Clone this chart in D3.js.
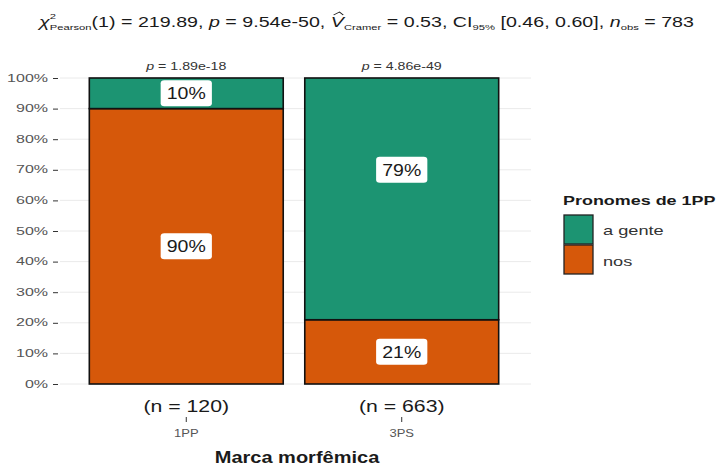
<!DOCTYPE html>
<html>
<head>
<meta charset="utf-8">
<script src="https://cdn.jsdelivr.net/npm/d3@7"></script>
<style>
  body { margin: 0; background: #fff; }
  svg { display: block; font-family: "Liberation Sans", Arial, sans-serif; }
  svg text { white-space: pre; }
</style>
</head>
<body>
<svg id="chart" width="717" height="466" font-family="Liberation Sans, Arial, sans-serif"></svg>
<script>
// Data
const categories = ["1PP", "3PS"];
const sampleSizes = [120, 663];
const pValues = ["1.89e-18", "4.86e-49"];
const seriesNames = ["a gente", "nos"];
const aGente = [10, 79];
const nos = [90, 21];
const yTicks = [0, 10, 20, 30, 40, 50, 60, 70, 80, 90, 100];
const seriesColors = ["#1C9472", "#D6580A"];

const svg = d3.select("#chart");
const panel = { left: 57, right: 531, top: 78, bottom: 384 };

const x = d3.scaleLinear().domain([0.4, categories.length + 0.6]).range([panel.left, panel.right]);
const y = d3.scaleLinear().domain([0, 100]).range([panel.bottom, panel.top]);
const barW = (x(1) - x(0)) * 0.9;

// Horizontally widened text placed at (px, py)
function wideText(parent, px, py, str, opts = {}) {
  const g = parent.append("g").attr("transform", `translate(${px},${py}) scale(${opts.sx || 1.35},1)`);
  const t = g.append("text").attr("x", 0).attr("y", 0)
    .attr("text-anchor", opts.anchor || "middle")
    .attr("fill", opts.fill || "#222")
    .attr("font-weight", opts.bold ? "bold" : null)
    .style("font-size", (opts.size || 12) + "px");
  if (opts.dy) t.attr("dy", opts.dy);
  t.text(str);
  return { g, t };
}

// Gridlines
svg.append("g").selectAll("line").data(yTicks).join("line")
  .attr("x1", panel.left + 3).attr("x2", panel.right)
  .attr("y1", d => y(d)).attr("y2", d => y(d))
  .attr("stroke", "#e8e8e8").attr("stroke-width", 0.9);

// Y axis: tick marks via d3 axis, labels drawn widened
const yAxis = d3.axisLeft(y).tickValues(yTicks).tickFormat("").tickSize(5);
const gy = svg.append("g").attr("transform", `translate(${panel.left + 1},0)`).call(yAxis);
gy.select(".domain").remove();
gy.selectAll(".tick line").attr("stroke", "#333").attr("stroke-width", 1);
yTicks.forEach(v => {
  wideText(svg, 48, y(v), v + "%", { anchor: "end", size: 10, sx: 1.6, fill: "#555", dy: "0.35em" });
});

// Stacked bars: "nos" at the bottom, "a gente" on top
const stacks = categories.map((c, i) => [
  { key: 1, cat: i, y0: 0, y1: nos[i], v: nos[i] },
  { key: 0, cat: i, y0: nos[i], y1: nos[i] + aGente[i], v: aGente[i] }
]).flat();

svg.append("g").selectAll("rect").data(stacks).join("rect")
  .attr("x", d => x(d.cat + 1) - barW / 2)
  .attr("width", barW)
  .attr("y", d => y(d.y1))
  .attr("height", d => y(d.y0) - y(d.y1))
  .attr("fill", d => seriesColors[d.key])
  .attr("stroke", "#111").attr("stroke-width", 1.6);

// Percentage labels in white rounded boxes
const labelY = d => {
  const mid = (y(d.y0) + y(d.y1)) / 2;
  const h = y(d.y0) - y(d.y1);
  return d.key === 0 && d.v > 50 ? mid - 0.12 * h : mid;
};
stacks.forEach(d => {
  const cx = x(d.cat + 1), cy = labelY(d);
  const { g, t } = wideText(svg, cx, cy, d.v + "%", { size: 16, sx: 1.22, dy: "0.36em", fill: "#1a1a1a" });
  const w = t.node().getComputedTextLength();
  g.insert("rect", "text")
    .attr("x", -w / 2 - 5).attr("y", -13).attr("width", w + 10).attr("height", 26)
    .attr("rx", 3).attr("fill", "#fff");
});

// p-values above bars
categories.forEach((c, i) => {
  const g = svg.append("g").attr("transform", `translate(${x(i + 1)},70) scale(1.42,1)`);
  const t = g.append("text").attr("text-anchor", "middle").attr("fill", "#333").style("font-size", "10px");
  t.append("tspan").attr("font-style", "italic").text("p");
  t.append("tspan").text(" = " + pValues[i]);
});

// x axis: sample sizes, ticks, category labels
categories.forEach((c, i) => {
  wideText(svg, x(i + 1), 412, `(n = ${sampleSizes[i]})`, { size: 17, sx: 1.25, fill: "#1a1a1a" });
  svg.append("line").attr("x1", x(i + 1)).attr("x2", x(i + 1)).attr("y1", 417).attr("y2", 422)
    .attr("stroke", "#333").attr("stroke-width", 1);
  wideText(svg, x(i + 1), 437, c, { size: 10, sx: 1.3, fill: "#555" });
});

wideText(svg, 297, 463, "Marca morfêmica", { size: 16, bold: true, sx: 1.25, fill: "#1a1a1a" });

// Legend
const lg = svg.append("g");
wideText(lg, 563, 205, "Pronomes de 1PP", { anchor: "start", size: 13, bold: true, sx: 1.38, fill: "#1a1a1a" });
seriesNames.forEach((s, i) => {
  lg.append("rect").attr("x", 564).attr("y", 215 + i * 30).attr("width", 29).attr("height", 29)
    .attr("fill", seriesColors[i]).attr("stroke", "#222").attr("stroke-width", 1.3);
  wideText(lg, 603, 235 + i * 31, s, { anchor: "start", size: 13, sx: 1.4, fill: "#333" });
});

// Title with sub/superscripts
const titleOuter = svg.append("g");
const title = titleOuter.append("g");
const base = 0;
let cx = 0;
function piece(str, opts = {}) {
  const t = title.append("text").attr("x", cx).attr("y", base + (opts.dy || 0))
    .attr("fill", "#1a1a1a").style("font-size", (opts.size || 14) + "px")
    .attr("font-style", opts.italic ? "italic" : null).text(str);
  return t.node().getComputedTextLength();
}
cx += piece("χ", { italic: true });
{
  const a = piece("2", { size: 8, dy: -8 });
  const b = piece("Pearson", { size: 8, dy: 3 });
  cx += Math.max(a, b);
}
cx += piece("(1) = 219.89, ");
cx += piece("p", { italic: true });
cx += piece(" = 9.54e-50, ");
const vx = cx;
const vw = piece("V", { italic: true });
// hat over the V
title.append("path")
  .attr("d", `M${vx + 2},${base - 12} L${vx + vw / 2 + 1.5},${base - 15} L${vx + vw - 0.5},${base - 12}`)
  .attr("fill", "none").attr("stroke", "#1a1a1a").attr("stroke-width", 0.9);
cx += vw;
cx += piece("Cramer", { size: 8, dy: 3 });
cx += piece(" = 0.53, CI");
cx += piece("95%", { size: 8, dy: 3 });
cx += piece(" [0.46, 0.60], ");
cx += piece("n", { italic: true });
cx += piece("obs", { size: 8, dy: 3 });
cx += piece(" = 783");
const titleLeft = 39, titleRight = 694;
const tsx = (titleRight - titleLeft) / cx;
titleOuter.attr("transform", `translate(${titleLeft},27) scale(${tsx},1)`);
</script>
</body>
</html>
